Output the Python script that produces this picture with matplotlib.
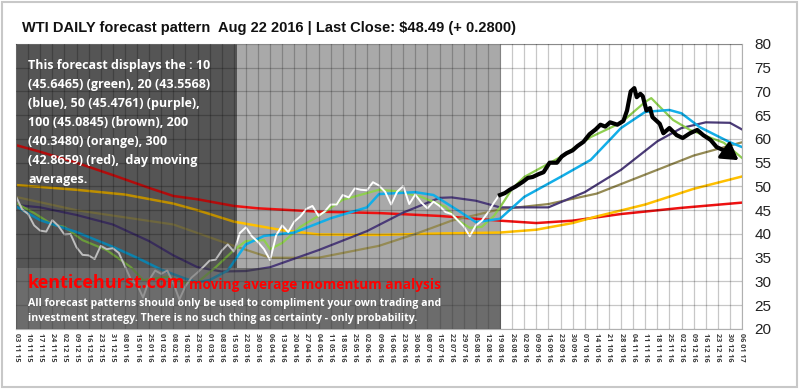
import numpy as np
import matplotlib
matplotlib.use("Agg")
import matplotlib.pyplot as plt
import matplotlib.patches as mpatches

# weekly date labels (every 5 trading days)
date_labels = ["03 11 15", "10 11 15", "17 11 15", "24 11 15", "02 12 15", "09 12 15",
               "16 12 15", "23 12 15", "31 12 15", "08 01 16", "15 01 16", "25 01 16",
               "01 02 16", "08 02 16", "16 02 16", "23 02 16", "01 03 16", "08 03 16",
               "15 03 16", "22 03 16", "30 03 16", "06 04 16", "13 04 16", "20 04 16",
               "27 04 16", "04 05 16", "11 05 16", "18 05 16", "25 05 16", "02 06 16",
               "09 06 16", "16 06 16", "23 06 16", "30 06 16", "08 07 16", "15 07 16",
               "22 07 16", "29 07 16", "05 08 16", "12 08 16", "19 08 16", "26 08 16",
               "02 09 16", "09 09 16", "16 09 16", "23 09 16", "30 09 16", "07 10 16",
               "14 10 16", "21 10 16", "28 10 16", "04 11 16", "11 11 16", "18 11 16",
               "25 11 16", "02 12 16", "09 12 16", "16 12 16", "23 12 16", "30 12 16",
               "06 01 17"]

# actual close, one value per half week
price = [47.9, 45.2, 44.2, 41.8, 40.7, 40.5, 42.9, 41.7, 39.9, 40.0,
         37.2, 35.6, 35.5, 34.7, 37.5, 36.8, 37.0, 36.0, 33.2, 30.4,
         29.4, 26.6, 30.3, 32.3, 31.6, 32.3, 29.7, 26.2, 29.0, 30.8,
         31.9, 33.1, 34.4, 34.6, 36.5, 37.8, 36.3, 40.2, 41.4, 39.5,
         38.3, 36.8, 34.5, 39.7, 41.8, 40.4, 42.6, 43.7, 45.3, 45.9,
         43.8, 44.7, 46.2, 46.2, 48.2, 47.7, 49.6, 49.3, 49.2, 50.9,
         50.2, 48.9, 46.2, 48.9, 50.1, 46.3, 48.3, 46.6, 45.4, 46.8,
         45.9, 44.6, 44.2, 42.9, 41.6, 39.5, 41.8, 42.8, 44.5, 46.6,
         48.4]

# forecast path (week position, value)
fc_t = [40, 40.4, 40.8, 41.3, 41.9, 42.3, 42.7, 43.2, 43.6, 44.1, 44.7, 45.1, 45.5,
        46.0, 46.4, 46.9, 47.4, 47.9, 48.3, 48.7, 49.1, 49.7, 50.2, 50.5, 50.8,
        51.1, 51.3, 51.6, 51.8, 52.1, 52.4, 52.6, 53.2, 53.5, 54.0, 54.6, 55.1,
        55.7, 56.3, 56.8, 57.4, 57.9, 58.4, 58.8]
fc_v = [48.2, 48.6, 49.3, 50.0, 51.0, 51.8, 52.0, 52.6, 53.0, 55.0, 55.0, 56.3, 57.0,
        57.6, 58.5, 59.4, 61.0, 62.0, 63.0, 62.6, 63.5, 63.0, 63.8, 66.0, 70.0,
        70.7, 68.8, 69.5, 69.0, 66.0, 66.5, 64.6, 63.2, 61.2, 62.3, 60.8, 60.2,
        61.2, 61.9, 60.8, 59.8, 58.3, 57.7, 57.2]
arrow_tip = (59.9, 55.2)

ma10_t = [0, 1.5, 3, 4, 5.5, 7.5, 9.5, 10.5, 12.5, 14, 15, 16.5, 18, 19, 20.5, 21, 22,
          23.5, 25, 27, 30, 31.5, 33.5, 35.5, 36.5, 37.5, 38.5, 39.5, 40, 41, 42, 45,
          47.5, 50, 52, 52.5, 53, 54.3, 55.7, 58.5, 60]
ma10_v = [46.5, 44.4, 42.0, 41.5, 38.7, 36.6, 33.0, 30.3, 31.0, 29.7, 29.8, 33.0, 36.6,
          38.5, 38.7, 36.8, 38.1, 41.5, 43.8, 47.2, 49.3, 49.0, 47.8, 45.7, 42.9, 41.3,
          41.5, 43.8, 45.6, 49.5, 52.0, 56.2, 60.4, 63.4, 67.8, 68.6, 67.3, 64.0, 61.9,
          59.2, 56.0]

ma20_t = [0, 2, 5, 8, 10, 12, 14, 15, 16, 17.5, 19, 20.5, 23, 26, 29, 30, 33, 34.5,
          36.5, 38, 40, 42, 45, 47.5, 50, 52, 54, 55, 56.5, 59, 60]
ma20_v = [45.8, 42.9, 40.4, 37.3, 35.0, 32.5, 30.6, 29.8, 30.3, 32.3, 37.8, 39.6, 40.3,
          43.3, 45.6, 48.4, 48.8, 48.2, 45.0, 42.5, 43.2, 47.8, 52.0, 55.6, 62.3, 65.7,
          66.1, 65.4, 62.5, 59.3, 58.3]

ma50_t = [0, 2, 5, 8, 11, 13, 15, 17, 19, 21, 25, 29, 32, 35, 36, 38, 40, 44, 47, 50,
          53, 55, 57, 59, 60]
ma50_v = [46.1, 45.6, 44.0, 42.0, 38.5, 35.5, 33.0, 32.1, 32.2, 33.0, 36.6, 40.6, 44.5,
          47.6, 47.7, 47.0, 45.6, 45.6, 48.8, 53.5, 59.5, 62.3, 63.5, 63.4, 62.0]

ma100_t = [0, 5, 9, 13, 15, 18, 21, 25, 30, 33, 36, 40, 44, 48, 52, 56, 60]
ma100_v = [47.8, 45.0, 43.5, 42.0, 40.2, 37.5, 35.0, 35.0, 37.5, 40.0, 42.8, 45.2, 46.3,
           48.5, 52.5, 56.5, 59.3]

ma200_t = [0, 5, 9, 13, 15, 18, 22, 25, 30, 35, 40, 43, 46, 48, 52, 56, 60]
ma200_v = [50.3, 49.3, 48.3, 46.4, 45.0, 42.6, 40.8, 39.9, 39.8, 40.1, 40.3, 40.9, 42.3,
           43.7, 46.2, 49.5, 52.1]

ma300_t = [0, 2, 5, 8, 11, 13, 15, 18, 20, 25, 30, 35, 40, 43, 46, 50, 55, 60]
ma300_v = [58.7, 57.3, 55.0, 52.4, 49.7, 48.0, 47.3, 45.9, 45.4, 44.7, 44.4, 43.8, 42.8,
           42.3, 42.8, 44.2, 45.5, 46.6]

fig = plt.figure(figsize=(8, 3.91), dpi=100)
fig.patch.set_facecolor("white")
fig.patches.append(mpatches.Rectangle((0.002, 0.01), 0.994, 0.985, transform=fig.transFigure,
                                      fill=False, edgecolor="#c8c8c8", linewidth=1.5))
ax = fig.add_axes([0.02, 0.1586, 0.9075, 0.729])
ax.set_xlim(0, 60)
ax.set_ylim(20, 80)

# shaded backgrounds (history)
ax.add_patch(mpatches.Rectangle((0, 20), 40.1, 60, facecolor="#a9a9a9", edgecolor="none", zorder=0))
ax.add_patch(mpatches.Rectangle((0, 32.8), 18.3, 47.2, facecolor="#727272", edgecolor="none", zorder=0.5))

ax.set_xticks(range(len(date_labels)))
ax.set_xticklabels(date_labels, rotation=270, fontsize=5.2, color="#3a3a3a",
                   fontweight="bold", family="Open Sans")
ax.set_yticks(range(20, 81, 5))
ax.yaxis.tick_right()
ax.tick_params(axis="y", labelsize=11, length=0, pad=9, labelcolor="#222222")
ax.tick_params(axis="x", length=0, pad=3)
for lab in ax.get_yticklabels():
    lab.set_family("Liberation Sans")
ax.grid(True, color="black", alpha=0.22, linewidth=0.9, zorder=1)
ax.set_axisbelow(False)
for s in ax.spines.values():
    s.set_color("#b0b0b0")

t_price = np.arange(len(price)) * 0.5
ax.plot(ma300_t, ma300_v, color="#ee1111", lw=1.8, zorder=2)
ax.plot(ma200_t, ma200_v, color="#ffc000", lw=1.8, zorder=2)
ax.plot(ma100_t, ma100_v, color="#948a54", lw=1.6, zorder=2)
ax.plot(ma50_t, ma50_v, color="#4b3b78", lw=1.6, zorder=2)
ax.plot(ma20_t, ma20_v, color="#12aee8", lw=1.8, zorder=2.2)
ax.plot(ma10_t, ma10_v, color="#8fcf50", lw=1.6, zorder=2.1)
ax.plot(t_price, price, color="white", lw=1.4, zorder=2.5)
ax.plot(fc_t, fc_v, color="black", lw=3.0, zorder=3, solid_joinstyle="round")
ax.annotate("", xy=arrow_tip, xytext=(fc_t[-1], fc_v[-1]), zorder=3,
            arrowprops=dict(arrowstyle="-|>,head_length=1.0,head_width=0.6",
                            color="black", lw=2.4))

# overlay boxes
ax.add_patch(mpatches.Rectangle((0, 32.8), 18.3, 47.2, facecolor="black", alpha=0.25,
                                edgecolor="none", zorder=4))
ax.add_patch(mpatches.Rectangle((0, 20), 40.1, 12.8, facecolor="#3a3a3a", alpha=0.55,
                                edgecolor="none", zorder=4))

fig.text(0.028, 0.928, "WTI DAILY forecast pattern  Aug 22 2016 | Last Close: $48.49 (+ 0.2800)",
         fontsize=10.5, fontweight="bold", family="Liberation Sans", color="#111111", va="center")

note = ("This forecast displays the : 10\n(45.6465) (green), 20 (43.5568)\n(blue), 50 (45.4761) (purple),\n"
        "100 (45.0845) (brown), 200\n(40.3480) (orange), 300\n(42.8659) (red),  day moving\naverages.")
fig.text(0.035, 0.85, note, fontsize=9.0, fontweight="bold", family="Open Sans", color="white",
         va="top", linespacing=1.6, zorder=5)

fig.text(0.035, 0.277, "kenticehurst.com", fontsize=13, fontweight="bold", family="Open Sans",
         color="#ff0000", va="center", zorder=5)
fig.text(0.236, 0.272, "moving average momentum analysis", fontsize=9.8, fontweight="bold",
         family="Open Sans", color="#ff0000", va="center", zorder=5)
fig.text(0.035, 0.225, "All forecast patterns should only be used to compliment your own trading and",
         fontsize=7.6, fontweight="bold", family="Open Sans", color="white", va="center", zorder=5)
fig.text(0.035, 0.186, "investment strategy. There is no such thing as certainty - only probability.",
         fontsize=7.6, fontweight="bold", family="Open Sans", color="white", va="center", zorder=5)

fig.savefig("out.png", dpi=100)
